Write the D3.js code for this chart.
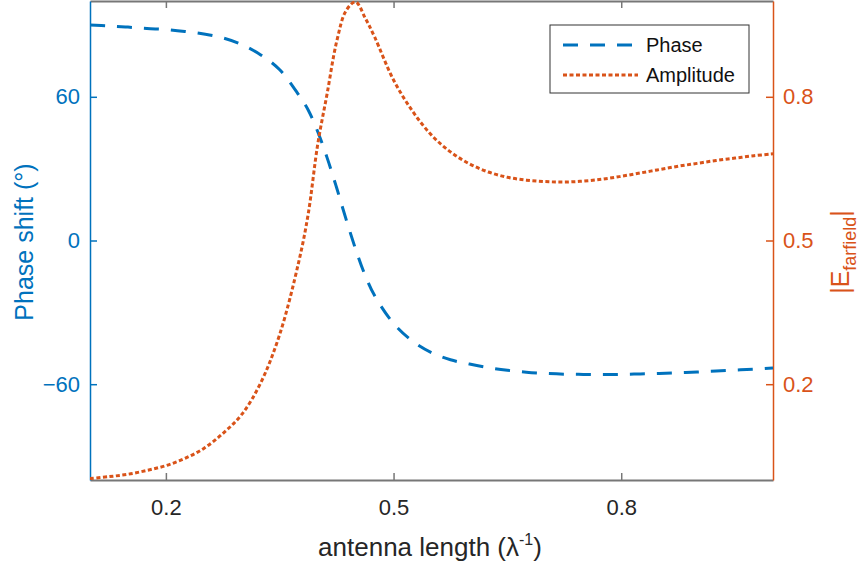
<!DOCTYPE html>
<html><head><meta charset="utf-8">
<script src="https://cdn.jsdelivr.net/npm/d3@7"></script>
<style>
body{margin:0;background:#fff;}
text{font-family:"Liberation Sans",Arial,Helvetica,sans-serif;}
</style></head>
<body>
<svg id="chart" width="865" height="567"></svg>
<script>
const lengths = [0.1,0.125,0.15,0.175,0.2,0.225,0.25,0.275,0.3,0.325,0.35,0.375,0.3875,0.4,0.4125,0.425,0.4375,0.45,0.4625,0.475,0.5,0.525,0.55,0.575,0.6,0.625,0.65,0.675,0.7,0.725,0.75,0.775,0.8,0.825,0.85,0.875,0.9,0.925,0.95,0.975,1.0];
const phase = [90,89.6,89.1,88.5,88.1,87.3,86.2,84.6,81.8,77.5,71.3,60.8,54.5,45.5,34.5,22,8.8,-3.6,-14.5,-23,-34.6,-42,-46.8,-49.8,-51.6,-53.1,-54.2,-55.0,-55.5,-55.8,-55.9,-56,-55.9,-55.7,-55.5,-55.2,-54.9,-54.5,-54.1,-53.7,-53.2];
const amplitude = [0.003,0.007,0.012,0.02,0.03,0.045,0.066,0.097,0.137,0.203,0.304,0.455,0.555,0.70,0.807,0.915,0.98,0.998,0.965,0.925,0.835,0.77,0.72,0.685,0.66,0.643,0.632,0.626,0.623,0.622,0.624,0.628,0.634,0.641,0.648,0.655,0.661,0.667,0.672,0.677,0.681];
const xTicks = [0.2,0.5,0.8];
const phaseTicks = [-60,0,60];
const ampTicks = [0.2,0.5,0.8];
const seriesNames = ["Phase","Amplitude"];

const blue = "#0072BD", orange = "#D95319", axisGray = "#777";
const svg = d3.select("#chart");
const L = 90, R = 773, T = 1, B = 480;
const x = d3.scaleLinear().domain([0.1,1.0]).range([L,R]);
const yL = d3.scaleLinear().domain([-100,100]).range([B,T]);
const yR = d3.scaleLinear().domain([0,1]).range([B,T]);

svg.append("defs").append("clipPath").attr("id","clip")
  .append("rect").attr("x",L).attr("y",T).attr("width",R-L).attr("height",B-T);

const gb = svg.append("g").attr("transform",`translate(0,${B})`)
  .call(d3.axisBottom(x).tickValues(xTicks).tickFormat(d3.format(".1f")).tickSizeInner(-7).tickSizeOuter(0).tickPadding(19));
gb.select(".domain").attr("stroke",axisGray).attr("stroke-width",2);
gb.selectAll(".tick line").attr("stroke",axisGray).attr("stroke-width",1.5);
gb.selectAll(".tick text").attr("fill","#262626").attr("font-size",22);

const gt = svg.append("g").attr("transform",`translate(0,${T})`)
  .call(d3.axisTop(x).tickValues(xTicks).tickFormat("").tickSizeInner(-7).tickSizeOuter(0));
gt.select(".domain").attr("stroke",axisGray).attr("stroke-width",2);
gt.selectAll(".tick line").attr("stroke",axisGray).attr("stroke-width",1.5);

const gl = svg.append("g").attr("transform",`translate(${L},0)`)
  .call(d3.axisLeft(yL).tickValues(phaseTicks).tickSizeInner(-7).tickSizeOuter(0).tickPadding(10));
gl.select(".domain").attr("stroke",blue).attr("stroke-width",1.5);
gl.selectAll(".tick line").attr("stroke",blue).attr("stroke-width",1.5);
gl.selectAll(".tick text").attr("fill",blue).attr("font-size",22);

const gr = svg.append("g").attr("transform",`translate(${R},0)`)
  .call(d3.axisRight(yR).tickValues(ampTicks).tickFormat(d3.format(".1f")).tickSizeInner(-7).tickSizeOuter(0).tickPadding(10));
gr.select(".domain").attr("stroke",orange).attr("stroke-width",1.5);
gr.selectAll(".tick line").attr("stroke",orange).attr("stroke-width",1.5);
gr.selectAll(".tick text").attr("fill",orange).attr("font-size",22);

const curve = d3.curveCatmullRom.alpha(0.5);
const lineP = d3.line().x((d,i)=>x(lengths[i])).y(d=>yL(d)).curve(curve);
const lineA = d3.line().x((d,i)=>x(lengths[i])).y(d=>yR(d)).curve(curve);
const plot = svg.append("g").attr("clip-path","url(#clip)");
plot.append("path").datum(phase).attr("d",lineP).attr("fill","none")
  .attr("stroke",blue).attr("stroke-width",3).attr("stroke-dasharray","15,12");
plot.append("path").datum(amplitude).attr("d",lineA).attr("fill","none")
  .attr("stroke",orange).attr("stroke-width",3).attr("stroke-dasharray","4,2.5");

svg.append("text").attr("transform","translate(24,242) rotate(-90)")
  .attr("text-anchor","middle").attr("dy","0.35em").attr("fill",blue).attr("font-size",25).text("Phase shift (°)");
const rl = svg.append("text").attr("transform","translate(840,252) rotate(-90)")
  .attr("text-anchor","middle").attr("dy","0.35em").attr("fill",orange).attr("font-size",25);
rl.append("tspan").text("|E");
rl.append("tspan").attr("font-size",18).attr("dy",7).text("farfield");
rl.append("tspan").attr("dy",-7).text("|");

const xl = svg.append("text").attr("x",430).attr("y",556).attr("text-anchor","middle")
  .attr("fill","#262626").attr("font-size",26);
xl.append("tspan").text("antenna length (λ");
xl.append("tspan").attr("font-size",16).attr("dy",-11).text("-1");
xl.append("tspan").attr("dy",11).text(")");

const lg = svg.append("g");
lg.append("rect").attr("x",550).attr("y",25).attr("width",199).attr("height",68)
  .attr("fill","#fff").attr("stroke","#333").attr("stroke-width",1);
const styles = [{c:blue,d:"15,12"},{c:orange,d:"4,2.5"}];
seriesNames.forEach((n,i)=>{
  const yy = 45 + i*30;
  lg.append("line").attr("x1",563).attr("x2",638).attr("y1",yy).attr("y2",yy)
    .attr("stroke",styles[i].c).attr("stroke-width",3).attr("stroke-dasharray",styles[i].d);
  lg.append("text").attr("x",646).attr("y",yy+7).attr("fill","#111").attr("font-size",20).text(n);
});
</script>
</body></html>
